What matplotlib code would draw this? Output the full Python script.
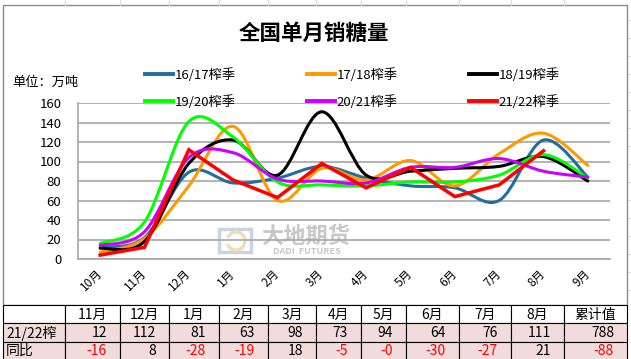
import numpy as np
import matplotlib
matplotlib.use('Agg')
import matplotlib.pyplot as plt
from matplotlib.path import Path
from matplotlib.patches import PathPatch, Rectangle, Arc
from matplotlib.lines import Line2D

plt.rcParams['font.family'] = ['Noto Sans CJK SC', 'DejaVu Sans']

# data (万吨)
months = ['10月', '11月', '12月', '1月', '2月', '3月', '4月', '5月', '6月', '7月', '8月', '9月']
s1617 = [12, 22, 89, 78, 83, 95, 83, 75, 73, 60, 122, 84]
s1718 = [7, 21, 75, 136, 60, 93, 81, 101, 75, 108, 129, 96]
s1819 = [11, 18, 98, 122, 86, 151, 86, 90, 93, 95, 105, 80]
s1920 = [16, 38, 141, 125, 79, 76, 75, 79, 79, 86, 107, 83]
s2021 = [14, 28, 104, 109, 82, 80, 78, 94, 94, 103, 90, 84]
s2122 = [4, 12, 112, 81, 63, 98, 73, 94, 64, 76, 111]

series_names = ['16/17榨季', '17/18榨季', '18/19榨季', '19/20榨季', '20/21榨季', '21/22榨季']
series_colors = ['#1f6e9e', '#ff9900', '#000000', '#00ff00', '#cc00ff', '#ff0000']

table_head = ['11月', '12月', '1月', '2月', '3月', '4月', '5月', '6月', '7月', '8月', '累计值']
row_2122 = ['12', '112', '81', '63', '98', '73', '94', '64', '76', '111', '788']
row_yoy = ['-16', '8', '-28', '-19', '18', '-5', '-0', '-30', '-27', '21', '-88']


def smooth_path(ys):
    # excel-like smoothed line: cubic bezier through each point
    xs = np.arange(len(ys), dtype=float)
    ys = np.asarray(ys, dtype=float)
    n = len(ys)
    verts = [(xs[0], ys[0])]
    codes = [Path.MOVETO]
    for i in range(n - 1):
        a = max(i - 1, 0)
        b = min(i + 2, n - 1)
        c1 = (xs[i] + (xs[i + 1] - xs[a]) / 6, ys[i] + (ys[i + 1] - ys[a]) / 6)
        c2 = (xs[i + 1] - (xs[b] - xs[i]) / 6, ys[i + 1] - (ys[b] - ys[i]) / 6)
        verts += [c1, c2, (xs[i + 1], ys[i + 1])]
        codes += [Path.CURVE4] * 3
    return Path(verts, codes)


W, H = 631, 359
fig = plt.figure(figsize=(W / 100, H / 100), dpi=100)

# background layer in pixel coords
bg = fig.add_axes([0, 0, 1, 1])
bg.set_xlim(0, W)
bg.set_ylim(H, 0)
bg.axis('off')

col_x = [3, 65, 120, 169, 219, 268, 316, 361, 406, 459, 511, 564, 627]
row_y = [305, 323, 342, 362]

# spreadsheet grid peeking out
for x in col_x[1:-1]:
    bg.plot([x, x], [0, 5], color='#d9d9d9', lw=0.8)
for y in [20, 38, 56, 74, 92, 110, 128, 146, 164, 182, 200, 218, 236, 254, 272, 290]:
    bg.plot([628, W], [y, y], color='#d9d9d9', lw=0.8)

# chart frame
bg.add_patch(Rectangle((3, 5), 624, 300, fill=False, ec='#8c8c8c', lw=1.0))

# table
for r in range(3):
    for c in range(len(col_x) - 1):
        fc = 'white' if r == 0 else '#f2dcdb'
        bg.add_patch(Rectangle((col_x[c], row_y[r]), col_x[c + 1] - col_x[c], row_y[r + 1] - row_y[r],
                               fc=fc, ec='black', lw=0.8))
for c, t in enumerate(table_head):
    bg.text((col_x[c + 1] + col_x[c + 2]) / 2, (row_y[0] + row_y[1]) / 2 + 0.5, t,
            ha='center', va='center', fontsize=10)
bg.text(col_x[0] + 3, (row_y[1] + row_y[2]) / 2 + 0.5, '21/22榨', ha='left', va='center', fontsize=10)
bg.text(col_x[0] + 3, (row_y[2] + row_y[3]) / 2 - 1, '同比', ha='left', va='center', fontsize=10)
for c, t in enumerate(row_2122):
    bg.text(col_x[c + 2] - 13, (row_y[1] + row_y[2]) / 2 + 0.5, t, ha='right', va='center', fontsize=10)
for c, t in enumerate(row_yoy):
    bg.text(col_x[c + 2] - 13, (row_y[2] + row_y[3]) / 2 - 1, t, ha='right', va='center', fontsize=10,
            color='#ff0000' if t.startswith('-') else 'black')

# watermark
bg.add_patch(Rectangle((219, 229), 32, 23, fill=False, ec='#c9d3e3', lw=2.5))
bg.add_patch(Arc((236, 241), 18, 18, theta1=200, theta2=520, ec='#f2dcb8', lw=2.5))
bg.text(306, 236, '大地期货', ha='center', va='center', fontsize=16, color='#c8c8c8', weight='bold')
bg.text(307, 251, 'DADI  FUTURES', ha='center', va='center', fontsize=6.5, color='#c8c8c8', weight='bold')

# titles
fig.text(314 / W, 1 - 33 / H, '全国单月销糖量', ha='center', va='center', fontsize=15.5, weight='bold')
fig.text(12 / W, 1 - 82 / H, '单位：万吨', ha='left', va='center', fontsize=9.5)

# plot area
ax = fig.add_axes([78 / W, 1 - 259 / H, 532 / W, 156 / H])
ax.patch.set_alpha(0)
ax.set_xlim(-0.5, 11.5)
ax.set_ylim(0, 160)
ax.set_yticks(range(0, 161, 20))
ax.yaxis.grid(True, color='#a6a6a6', lw=1.2)
ax.set_axisbelow(True)
for s in ['top', 'right']:
    ax.spines[s].set_visible(False)
for s in ['left', 'bottom']:
    ax.spines[s].set_color('#a6a6a6')
    ax.spines[s].set_linewidth(1.2)
ax.tick_params(axis='y', length=0, pad=12, labelsize=9.5)
ax.set_xticks(range(12))
ax.set_xticklabels(months, rotation=45, ha='right', va='center', rotation_mode='anchor', fontsize=8.5)
ax.tick_params(axis='x', length=0, pad=9)

smooth = [s1617, s1718, s1819, s1920, s2021]
for ys, col in zip(smooth, series_colors[:5]):
    ax.add_patch(PathPatch(smooth_path(ys), fill=False, ec=col, lw=2.2, capstyle='round', joinstyle='round'))
ax.plot(range(len(s2122)), s2122, color=series_colors[5], lw=2.5, solid_joinstyle='miter')

handles = [Line2D([], [], color=c, lw=2.8) for c in series_colors]
order = [0, 3, 1, 4, 2, 5]
fig.legend([handles[i] for i in order], [series_names[i] for i in order], ncol=3, loc='upper left',
           bbox_to_anchor=(145 / W, 1 - 68 / H), frameon=False, fontsize=9.5, handlelength=2.1,
           handletextpad=0.15, columnspacing=5.4, labelspacing=1.0, borderpad=0, borderaxespad=0)

fig.savefig('out.png', dpi=100)
